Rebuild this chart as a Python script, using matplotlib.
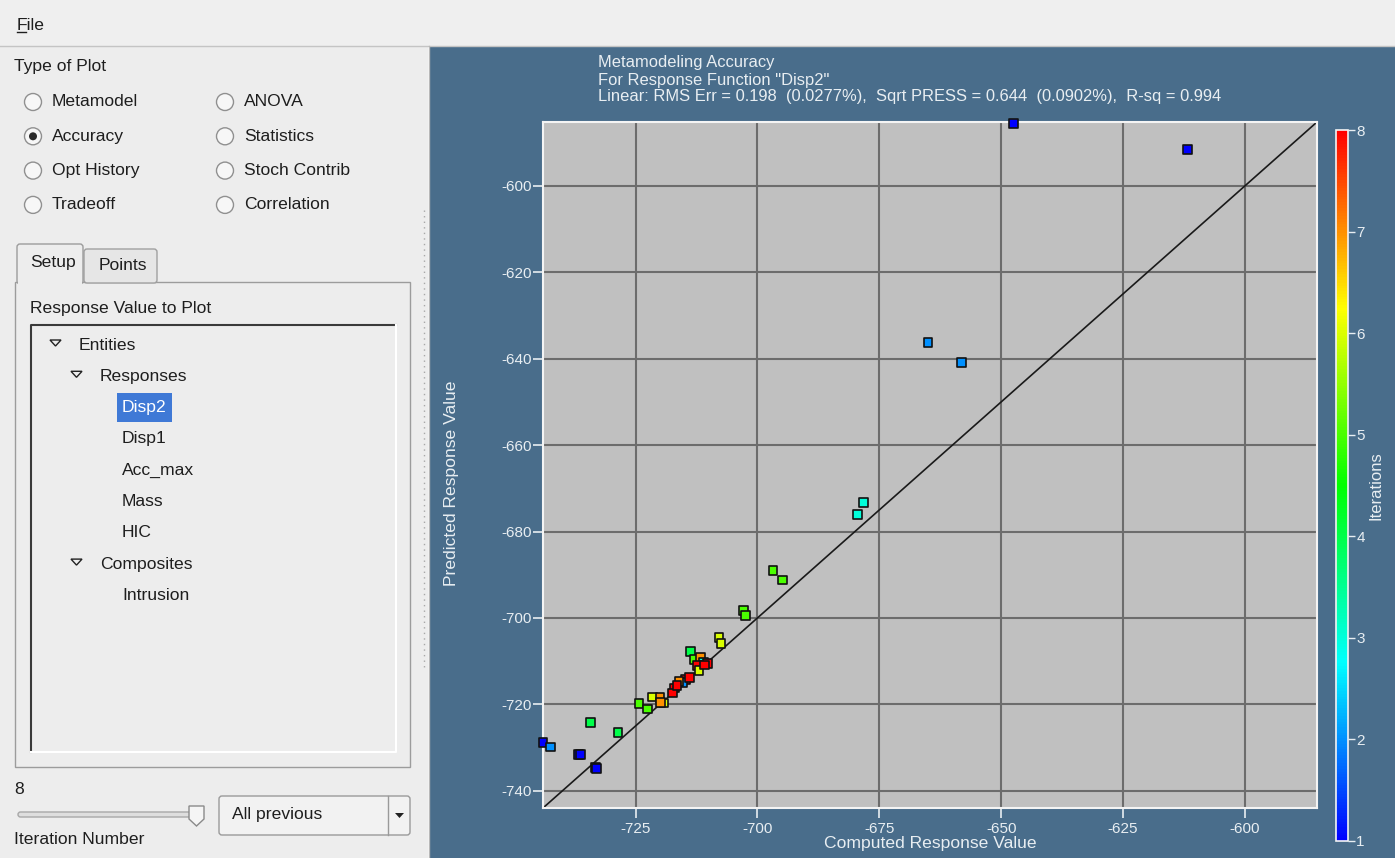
import matplotlib
matplotlib.use("Agg")
from matplotlib import pyplot as plt
from matplotlib.patches import Rectangle, Circle, FancyBboxPatch, Polygon
from matplotlib.colors import LinearSegmentedColormap

# --- data ---
computed = [-647.5, -611.7, -665.0, -658.2, -678.3, -679.4, -696.8, -694.8,
            -702.8, -702.4, -707.9, -707.5, -713.7, -713.0, -711.7, -711.0,
            -710.3, -712.3, -712.0, -714.7, -715.3, -716.1, -717.0, -717.5,
            -716.5, -713.9, -710.8, -724.3, -722.5, -721.6, -720.0, -719.2,
            -719.9, -734.2, -728.6, -744.0, -742.5, -736.7, -736.3, -733.2, -733.0]
predicted = [-585.6, -591.5, -636.3, -640.9, -673.2, -676.0, -689.1, -691.2,
             -698.2, -699.5, -704.6, -706.0, -707.7, -709.7, -709.2, -710.2,
             -710.5, -711.0, -712.2, -714.3, -714.9, -714.8, -716.2, -717.4,
             -715.6, -713.8, -710.9, -719.8, -721.1, -718.3, -718.4, -719.7,
             -719.6, -724.2, -726.5, -728.8, -729.9, -731.7, -731.7, -734.6, -734.8]
iteration = [1, 1, 2, 2, 3, 3, 5, 5,
             5, 5, 6, 6, 4, 5, 7, 3,
             8, 8, 6, 8, 2, 7, 8, 8,
             8, 8, 8, 5, 5, 6, 7, 6,
             7, 4, 4, 1, 2, 1, 1, 1, 1]

x_ticks = [-725, -700, -675, -650, -625, -600]
y_ticks = [-740, -720, -700, -680, -660, -640, -620, -600]
lims = (-744.0, -585.2)

title_lines = ['Metamodeling Accuracy',
               'For Response Function "Disp2"',
               'Linear: RMS Err = 0.198  (0.0277%),  Sqrt PRESS = 0.644  (0.0902%),  R-sq = 0.994']

plot_types_left = ['Metamodel', 'Accuracy', 'Opt History', 'Tradeoff']
plot_types_right = ['ANOVA', 'Statistics', 'Stoch Contrib', 'Correlation']
tree_items = [('Entities', 0, True), ('Responses', 1, True), ('Disp2', 2, False),
              ('Disp1', 2, False), ('Acc_max', 2, False), ('Mass', 2, False),
              ('HIC', 2, False), ('Composites', 1, True), ('Intrusion', 2, False)]

W, H = 1395, 858
bg_blue = '#496d8b'
panel = '#ededed'
txt = '#1e1e1e'
light = '#e8eef2'
gui_font = ['Liberation Sans', 'DejaVu Sans']
plot_font = ['Liberation Sans Narrow', 'Liberation Sans', 'DejaVu Sans']
gfs = 12.6

fig = plt.figure(figsize=(W / 100, H / 100), dpi=100)
gui = fig.add_axes([0, 0, 1, 1])
gui.set_xlim(0, W)
gui.set_ylim(H, 0)
gui.axis('off')

# menu bar and panels
gui.add_patch(Rectangle((0, 0), W, 46, fc='#efefef', ec='none'))
gui.plot([0, W], [45.5, 45.5], color='#c4c4c4', lw=1)
gui.add_patch(Rectangle((0, 46), 428, H - 46, fc=panel, ec='none'))
gui.add_patch(Rectangle((429, 46), W - 429, H - 46, fc=bg_blue, ec='none'))
gui.plot([428.5, 428.5], [46, H], color='#b8b8b8', lw=1)
gui.text(17, 25, 'File', family=gui_font, fontsize=gfs, color=txt, va='center')
gui.plot([17, 26], [32, 32], color=txt, lw=1)

gui.text(14, 67, 'Type of Plot', family=gui_font, fontsize=gfs, color=txt, va='center')
for col, names in ((33, plot_types_left), (225, plot_types_right)):
    for i, name in enumerate(names):
        yy = 102 + i * 34.3
        gui.add_patch(Circle((col, yy), 8.5, fc='#f7f7f7', ec='#909090', lw=1))
        if name == 'Accuracy':
            gui.add_patch(Circle((col, yy), 4, fc='#2a2a2a', ec='none'))
        gui.text(col + 19, yy, name, family=gui_font, fontsize=gfs, color=txt, va='center')

# tab widget
gui.add_patch(Rectangle((15, 282), 395, 485, fc=panel, ec='#9c9c9c', lw=1))
gui.add_patch(FancyBboxPatch((84, 249), 73, 34, boxstyle='round,pad=0,rounding_size=3',
                             fc='#e6e6e6', ec='#a0a0a0', lw=1))
gui.add_patch(FancyBboxPatch((17, 244), 66, 40, boxstyle='round,pad=0,rounding_size=3',
                             fc=panel, ec='#9c9c9c', lw=1))
gui.add_patch(Rectangle((18, 280), 64, 5, fc=panel, ec='none'))
gui.text(30, 263, 'Setup', family=gui_font, fontsize=gfs, color=txt, va='center')
gui.text(99, 265, 'Points', family=gui_font, fontsize=gfs, color=txt, va='center')
gui.text(30, 309, 'Response Value to Plot', family=gui_font, fontsize=gfs, color=txt, va='center')

# tree view
gui.add_patch(Rectangle((30, 324), 366, 428, fc=panel, ec='none'))
gui.plot([30.5, 30.5, 396], [752, 324.5, 324.5], color='#3a3a3a', lw=1.5)
gui.plot([31, 396, 396], [751.5, 751.5, 325], color='#ffffff', lw=1.5)
for i, (name, depth, expand) in enumerate(tree_items):
    yy = 345 + i * 31.3
    tx = 79 + 21 * depth
    if expand:
        ax0 = tx - 29
        gui.add_patch(Polygon([(ax0, yy - 5), (ax0 + 11, yy - 5), (ax0 + 5.5, yy + 1)],
                              closed=True, fc=panel, ec='#222222', lw=1))
    if name == 'Disp2':
        gui.add_patch(Rectangle((117, yy - 15), 55, 29, fc='#3f79d6', ec='none'))
        gui.text(tx + 1, yy, name, family=gui_font, fontsize=gfs, color='white', va='center')
    else:
        gui.text(tx + 1 if depth == 2 else tx, yy, name, family=gui_font, fontsize=gfs,
                 color=txt, va='center')

# slider and combo box
gui.text(14, 789, '8', family=gui_font, fontsize=gfs, color=txt, va='center')
gui.add_patch(FancyBboxPatch((18, 812), 178, 5, boxstyle='round,pad=0,rounding_size=2.5',
                             fc='#dedede', ec='#a8a8a8', lw=1))
gui.add_patch(Polygon([(189, 806), (204, 806), (204, 819), (196.5, 826), (189, 819)],
                      closed=True, fc='#f5f5f5', ec='#8a8a8a', lw=1))
gui.text(14, 840, 'Iteration Number', family=gui_font, fontsize=gfs, color=txt, va='center')
gui.add_patch(FancyBboxPatch((219, 796), 191, 39, boxstyle='round,pad=0,rounding_size=3',
                             fc='#f2f2f2', ec='#9a9a9a', lw=1))
gui.plot([387.5, 387.5], [796, 835], color='#9a9a9a', lw=1)
gui.add_patch(Polygon([(395, 813), (404, 813), (399.5, 818)], closed=True, fc='#222222', ec='none'))
gui.text(232, 815, 'All previous', family=gui_font, fontsize=gfs, color=txt, va='center')
gui.plot([424, 424], [210, 670], color='#a8a8a8', lw=1, ls=(0, (1, 3)))

# plot title
for i, line in enumerate(title_lines):
    gui.text(598, 63 + i * 17, line, family=plot_font, fontsize=11.9, color=light, va='center')

# --- accuracy plot ---
cmap = LinearSegmentedColormap.from_list('iters', ['#0000ff', '#00ffff', '#00ff00', '#ffff00', '#ff0000'])
ax = fig.add_axes([543 / W, (H - 808) / H, 774 / W, 686 / H])
ax.set_facecolor('#c0c0c0')
ax.set_xlim(lims)
ax.set_ylim(lims)
ax.set_xticks(x_ticks)
ax.set_yticks(y_ticks)
ax.set_xticklabels([str(v) for v in x_ticks], family=plot_font)
ax.set_yticklabels([str(v) for v in y_ticks], family=plot_font)
ax.grid(True, color='#6c6c6c', lw=1.5)
ax.set_axisbelow(True)
ax.tick_params(colors=light, labelsize=11, length=7, width=1.2, pad=1)
ax.tick_params(axis='x', pad=3)
for s in ax.spines.values():
    s.set_color('#f4f4f4')
    s.set_linewidth(1.5)
ax.plot(lims, lims, color='#1a1a1a', lw=1.2, zorder=2)
sc = ax.scatter(computed, predicted, c=iteration, cmap=cmap, vmin=1, vmax=8, marker='s',
                s=40, edgecolors='#111111', linewidths=1.2, zorder=3, clip_on=False)
ax.set_xlabel('Computed Response Value', family=plot_font, fontsize=12.6, color=light, labelpad=0)
ax.set_ylabel('Predicted Response Value', family=plot_font, fontsize=12.6, color=light)
ax.yaxis.set_label_coords((459 - 543) / 774, (808 - 483) / 686)

cax = fig.add_axes([1336 / W, (H - 841) / H, 12 / W, 711 / H])
cb = fig.colorbar(sc, cax=cax, ticks=range(1, 9))
cb.outline.set_edgecolor('#f4f4f4')
cb.outline.set_linewidth(1.2)
cax.tick_params(colors=light, labelsize=11, length=5, width=1, pad=1)
for t in cax.get_yticklabels():
    t.set_family(plot_font)
cb.set_label('Iterations', family=plot_font, fontsize=12, color=light, labelpad=3)

fig.savefig('out.png', dpi=100)
